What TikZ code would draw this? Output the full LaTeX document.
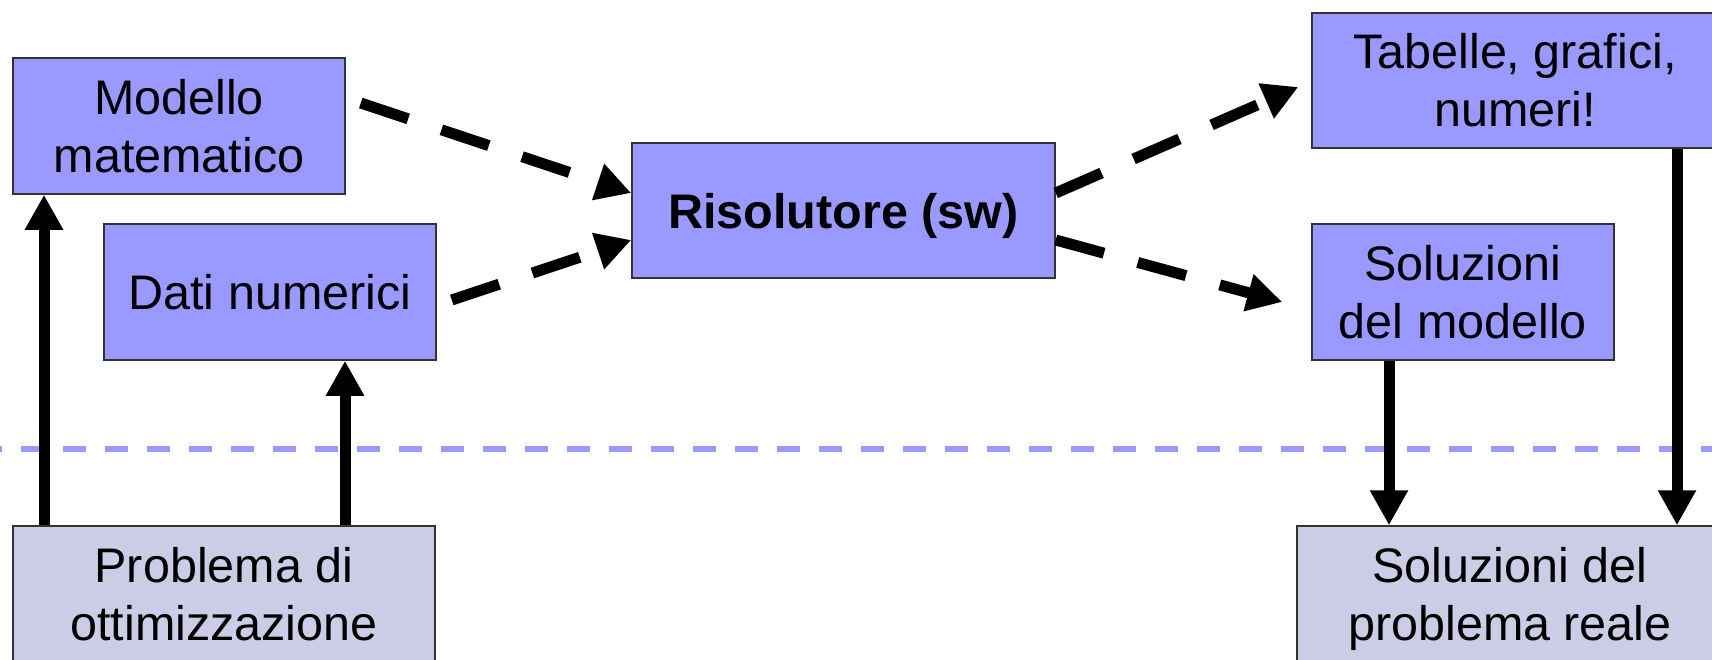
\documentclass[tikz,border=0pt]{standalone}
\usepackage{fontspec}
\setmainfont{Liberation Sans}
\usetikzlibrary{arrows.meta}
\definecolor{boxblue}{HTML}{9999FF}
\definecolor{boxgrey}{HTML}{CCCCE6}
\definecolor{edge}{HTML}{333333}
\begin{document}
\begin{tikzpicture}[x=1pt,y=-1pt,
  box/.style={draw=edge, line width=1.5pt, fill=boxblue, align=center,
    inner sep=0pt, font=\fontsize{48.5}{58}\selectfont},
  realbox/.style={box, fill=boxgrey},
  flow/.style={line width=11pt, -{Triangle[length=35pt,width=36pt]}},
  dflow/.style={flow, dash pattern=on 50pt off 35pt},
  level/.style={boxblue, line width=5.5pt, dash pattern=on 23pt off 19pt, dash phase=21pt}
]
\clip (0,0) rectangle (1712,659);
\fill[white] (0,0) rectangle (1712,659);

% separator between the model level and the real world
\draw[level] (0,449) -- (1712,449);

% model side
\node[box, minimum width=332pt, minimum height=136pt] (mod) at (179,126) {Modello\\matematico};
\node[box, minimum width=332pt, minimum height=136pt] (dat) at (270,292) {Dati numerici};
\node[box, minimum width=423pt, minimum height=135pt, text depth=0pt,
      font=\fontsize{48.5}{58}\selectfont\bfseries] (ris) at (843.5,210.5) {Risolutore (sw)};
\node[box, minimum width=406pt, minimum height=135pt] (tab) at (1515,80.5) {Tabelle, grafici,\\numeri!};
\node[box, minimum width=302pt, minimum height=136pt] (sol) at (1463,292) {Soluzioni\\del modello};

% real-world side
\node[realbox, minimum width=422pt, minimum height=136pt] (prob) at (224,594) {Problema di\\ottimizzazione};
\node[realbox, minimum width=426pt, minimum height=136pt] (real) at (1510,594) {Soluzioni del\\\smash{problema reale}};

% columns of the vertical connectors
\coordinate (c1) at (44,0);
\coordinate (c2) at (345,0);
\coordinate (c3) at (1389,0);
\coordinate (c4) at (1677,0);

\draw[flow] (prob.north -| c1) -- (mod.south -| c1);
\draw[flow] (prob.north -| c2) -- (dat.south -| c2);
\draw[flow] (sol.south -| c3) -- (real.north -| c3);
\draw[flow] (tab.south -| c4) -- (real.north -| c4);

% dashed flows through the solver
\draw[dflow] ([shift={(15,-23)}]mod.east) -- ([shift={(0,-17.5)}]ris.west);
\draw[dflow] ([shift={(15,8)}]dat.east) -- ([shift={(0,29.5)}]ris.west);
\draw[dflow] ([shift={(0,-17.5)}]ris.east) -- ([shift={(-13,6.5)}]tab.west);
\draw[dflow] ([shift={(0,29.5)}]ris.east) -- ([shift={(-29,10)}]sol.west);
\end{tikzpicture}
\end{document}
